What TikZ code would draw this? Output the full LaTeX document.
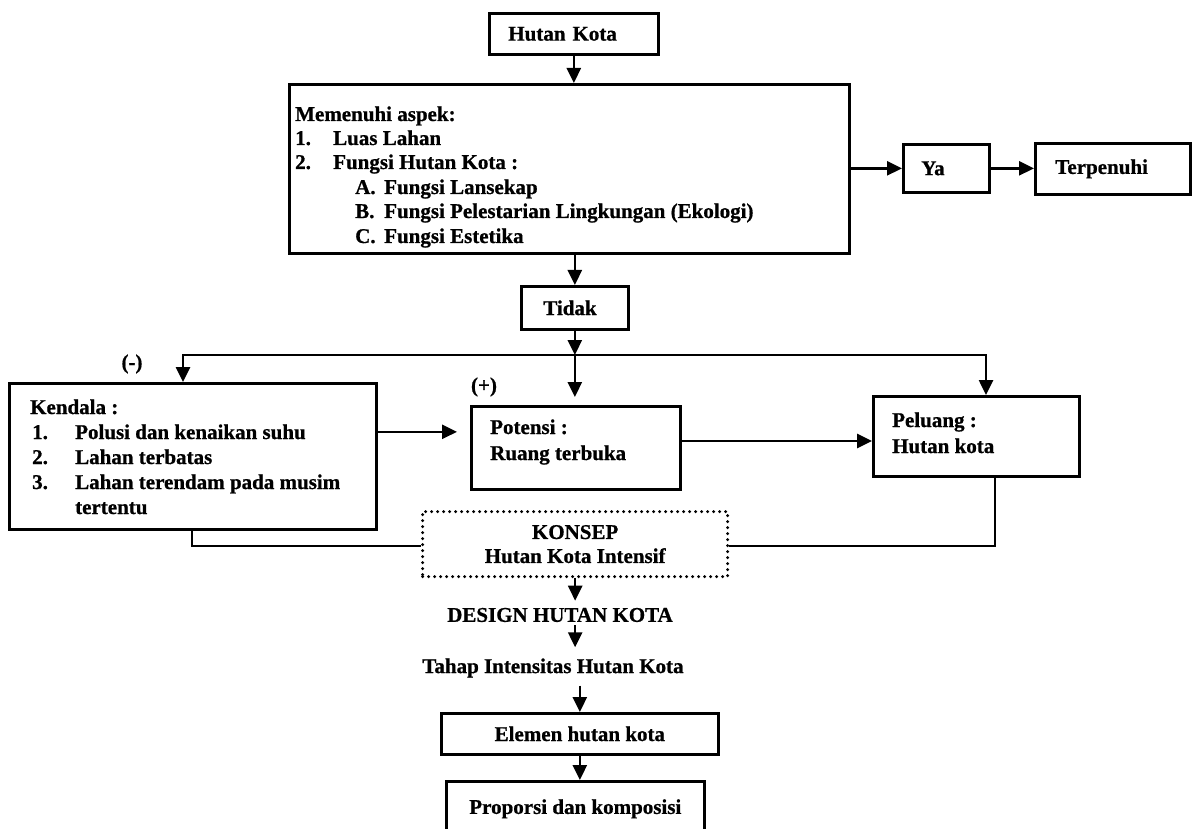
\documentclass[tikz,border=0pt]{standalone}
\usepackage{fontspec}
\setmainfont{Liberation Serif}[BoldFeatures={FakeBold=0.8}]
\usetikzlibrary{arrows.meta,calc}

\begin{document}
\begin{tikzpicture}[x=1pt,y=-1pt,
  every node/.style={font=\bfseries\fontsize{21}{24}\selectfont},
  box/.style={draw, line width=2.7pt, inner sep=0pt},
  lbl/.style={inner sep=0pt, anchor=base west},
  plain/.style={inner sep=0pt},
  arr/.style={line width=2.6pt, -{Triangle[length=15pt,width=14pt]}},
  link/.style={line width=2.6pt},
  dotbox/.style={draw, line width=3.3pt, dash pattern=on 0pt off 6pt, line cap=round, inner sep=0pt},
]
\useasboundingbox (0,0) rectangle (1192,829);
\clip (0,0) rectangle (1192,829);

% --- top: starting box and the checklist ---
\node[box, anchor=north west, minimum height=41pt, text width=131pt, inner xsep=19pt, align=left] (hutan) at (488,12) {Hutan Kota};
\node[box, anchor=north west, minimum width=560pt, minimum height=169pt] (aspek) at (288,83) {};
\node[lbl] (a0)  at (295,121) {Memenuhi aspek:};
\node[lbl] (a1n) at (295,145) {1.};
\node[lbl] (a1)  at (333,145) {Luas Lahan};
\node[lbl] (a2n) at (295,169) {2.};
\node[lbl] (a2)  at (333,169) {Fungsi Hutan Kota :};
\node[lbl] (aAn) at (355,194) {A.};
\node[lbl] (aA)  at (384,194) {Fungsi Lansekap};
\node[lbl] (aBn) at (355,218) {B.};
\node[lbl] (aB)  at (384,218) {Fungsi Pelestarian Lingkungan (Ekologi)};
\node[lbl] (aCn) at (355,243) {C.};
\node[lbl] (aC)  at (384,243) {Fungsi Estetika};

% --- "yes" branch ---
\node[box, anchor=north west, minimum height=48pt, text width=50pt, inner xsep=18pt, align=left] (ya) at (902,143) {Ya};
\node[box, anchor=north west, minimum height=51pt, text width=115pt, inner xsep=20pt, align=left] (terp) at (1034,142) {Terpenuhi};

% --- "no" branch ---
\node[box, anchor=north west, minimum height=43pt, text width=63pt, inner xsep=22pt, align=left] (tidak) at (520,285) {Tidak};

\coordinate (jl) at (183,355);
\coordinate (jr) at (986,355);
\coordinate (jm) at (tidak.south |- jl);

\node[plain] (minus) at (132,364) {(-)};
\node[plain] (plus)  at (484,387) {(+)};

% constraints
\node[box, anchor=north west, minimum width=367pt, minimum height=146pt] (kendala) at (8,382) {};
\node[lbl] (k0)  at (30,414) {Kendala :};
\node[lbl] (k1n) at (32,439) {1.};
\node[lbl] (k1)  at (75,439) {Polusi dan kenaikan suhu};
\node[lbl] (k2n) at (32,464) {2.};
\node[lbl] (k2)  at (75,464) {Lahan terbatas};
\node[lbl] (k3n) at (32,489) {3.};
\node[lbl] (k3)  at (75,489) {Lahan terendam pada musim};
\node[lbl] (k3b) at (75,514) {tertentu};

% potential
\node[box, anchor=north west, minimum width=209pt, minimum height=83pt] (potensi) at (470,405) {};
\node[lbl] (p0) at (490,434) {Potensi :};
\node[lbl] (p1) at (490,460) {Ruang terbuka};

% opportunity
\node[box, anchor=north west, minimum width=206pt, minimum height=80pt] (peluang) at (872,395) {};
\node[lbl] (q0) at (892,427) {Peluang :};
\node[lbl] (q1) at (892,453) {Hutan kota};

% concept
\node[dotbox, anchor=north west, minimum width=305pt, minimum height=65pt, align=center] (konsep) at (421,510) {KONSEP\\Hutan Kota Intensif};

% --- design chain ---
\node[plain] (design) at (560,615) {DESIGN HUTAN KOTA};
\node[plain] (tahap)  at (553,668) {Tahap Intensitas Hutan Kota};
\node[box, anchor=north west, minimum width=277pt, minimum height=41pt] (elemen) at (440,712) {Elemen hutan kota};
\node[box, anchor=north west, minimum width=258pt, minimum height=55pt] (proporsi) at (445,780) {Proporsi dan komposisi};

% --- connectors ---
\draw[arr] (hutan.south) -- (hutan.south |- aspek.north);
\draw[arr] (aspek.east |- ya.west) -- (ya.west);
\draw[arr] (ya.east) -- (ya.east -| terp.west);
\draw[arr] (tidak.north |- aspek.south) -- (tidak.north);
\draw[arr] (tidak.south) -- (jm);
\draw[arr] (jm) -- (jl) -- (jl |- kendala.north);
\draw[arr] (jm) -- (jr) -- (jr |- peluang.north);
\draw[arr, shorten >=8pt] (jm) -- (jm |- potensi.north);

\draw[arr, shorten >=13pt] (kendala.east |- k1) -- (potensi.west |- k1);
\coordinate (pq) at (potensi.east |- 0,441);
\draw[arr] (pq) -- (pq -| peluang.west);

\coordinate (kl) at (192,546);
\coordinate (kr) at (995,546);
\draw[link] (kendala.south -| kl) -- (kl) -- (kl -| konsep.west);
\draw[link] (peluang.south -| kr) -- (kr) -- (kr -| konsep.east);

\draw[arr, shorten >=7pt] (konsep.south) -- (konsep.south |- design.north);
\draw[arr, shorten <=3pt, shorten >=11pt] (konsep.south |- design.south) -- (konsep.south |- tahap.north);
\draw[arr, shorten <=8pt] (elemen.north |- tahap.south) -- (elemen.north);
\draw[arr] (elemen.south) -- (elemen.south |- proporsi.north);

\end{tikzpicture}
\end{document}
